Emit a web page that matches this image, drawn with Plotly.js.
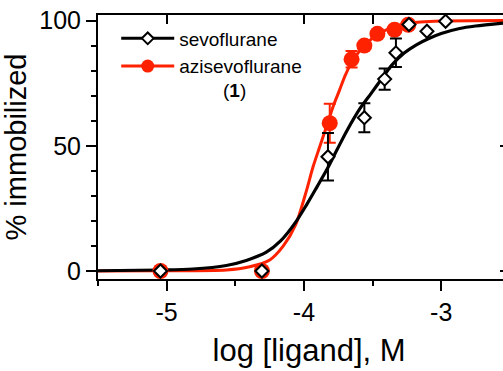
<!DOCTYPE html>
<html><head><meta charset="utf-8">
<script src="https://cdn.plot.ly/plotly-3.0.1.min.js"></script>
<style>html,body{margin:0;padding:0;background:#fff}#chart{width:503px;height:371px}</style>
</head><body><div id="chart"></div>
<script>
// ---- data ----
const sevoX = [-5.045, -4.306, -3.825, -3.56, -3.412, -3.33, -3.235, -3.104, -2.968];
const sevoY = [0, 0, 45.6, 61.2, 76.6, 87.1, 98.4, 95.7, 99.7];
const sevoErr = [null, null, 9.5, 5.8, 4.2, 5.7, null, null, null];

const aziX = [-5.045, -4.306, -3.812, -3.653, -3.56, -3.465, -3.34, -3.24];
const aziY = [0, 0, 59, 84.5, 90, 94.7, 96.3, 98.3];
const aziErr = [null, null, 7.8, 3.3, null, null, null, null];

const sevoFitX = [-5.5, -5.05, -4.81, -4.565, -4.42, -4.274, -4.17, -4.06, -3.98, -3.906, -3.833, -3.76, -3.687, -3.59, -3.509, -3.43, -3.363, -3.27, -3.181, -3.09, -3.0, -2.866, -2.75, -2.55];
const sevoFitY = [0.1, 0.4, 0.8, 2.2, 4.2, 7.5, 12, 19.5, 26.5, 33.5, 40.5, 48.3, 56, 65, 71, 77, 82, 87, 90.3, 92.8, 94.8, 96.8, 97.8, 99];

const aziFitX = [-5.5, -5.05, -4.565, -4.395, -4.249, -4.15, -4.06, -3.982, -3.934, -3.885, -3.836, -3.788, -3.74, -3.7, -3.65, -3.6, -3.55, -3.47, -3.38, -3.28, -3.15, -3.0, -2.55];
const aziFitY = [0, 0.1, 0.4, 1.7, 4.4, 10, 18.5, 32, 41.5, 49.6, 57.6, 65.6, 72.3, 78, 83.5, 87.5, 90.5, 94.2, 96.8, 98.5, 99.4, 99.8, 100];

const seriesNames = ['sevoflurane', 'azisevoflurane'];
const xTickVals = [-5, -4, -3];
const xTickText = ['-5', '-4', '-3'];
const yTickVals = [0, 50, 100];
const yTickText = ['0', '50', '100'];

const RED = '#ff2200';
const FONT = 'Arial, "Liberation Sans", Helvetica, sans-serif';

const traces = [
  {x: aziFitX, y: aziFitY, mode: 'lines', line: {color: RED, width: 3, shape: 'spline', smoothing: 0.8}, showlegend: false, hoverinfo: 'skip'},
  {x: sevoFitX, y: sevoFitY, mode: 'lines', line: {color: '#000', width: 3.2, shape: 'spline', smoothing: 0.8}, showlegend: false, hoverinfo: 'skip'},
  {x: aziX, y: aziY, mode: 'markers', showlegend: false,
   marker: {symbol: 'circle', size: 16, color: RED, line: {width: 0}},
   error_y: {type: 'data', array: aziErr, visible: true, color: RED, thickness: 2, width: 6}},
  {x: sevoX, y: sevoY, mode: 'markers', showlegend: false,
   marker: {symbol: 'diamond', size: 10, color: '#fff', line: {color: '#000', width: 2}},
   error_y: {type: 'data', array: sevoErr, visible: true, color: '#000', thickness: 2, width: 6}},
  // legend entries
  {x: [null], y: [null], name: seriesNames[0], mode: 'lines+markers',
   line: {color: '#000', width: 3}, marker: {symbol: 'diamond', size: 9, color: '#fff', line: {color: '#000', width: 2}}},
  {x: [null], y: [null], name: seriesNames[1], mode: 'lines+markers',
   line: {color: RED, width: 3}, marker: {symbol: 'circle', size: 13, color: RED}}
];

const layout = {
  width: 503, height: 371,
  margin: {l: 98, r: 0, t: 15, b: 92, pad: 0},
  paper_bgcolor: '#fff', plot_bgcolor: '#fff',
  font: {family: FONT, color: '#000'},
  showlegend: true,
  legend: {x: 0.045, y: 0.983, xanchor: 'left', yanchor: 'top', bgcolor: 'rgba(0,0,0,0)',
           font: {size: 19, family: FONT, color: '#000'}, itemwidth: 53, tracegroupgap: 0},
  xaxis: {
    range: [-5.5, -2.55], showgrid: false, zeroline: false,
    showline: true, linecolor: '#000', linewidth: 2,
    tickmode: 'array', tickvals: xTickVals, ticktext: xTickText,
    ticks: 'outside', ticklen: 10, tickwidth: 2, tickcolor: '#000',
    minor: {tickmode: 'array', tickvals: [-5.5, -4.5, -3.5], ticks: 'outside', ticklen: 5, tickwidth: 2, tickcolor: '#000', showgrid: false},
    tickfont: {size: 25, family: FONT, color: '#000'},
    title: {text: '&nbsp;&nbsp;log [ligand], M', font: {size: 31, family: FONT, color: '#000'}, standoff: 14},
    automargin: false
  },
  xaxis2: {
    overlaying: 'x', side: 'top', anchor: 'y', range: [-5.5, -2.55], matches: 'x',
    showgrid: false, zeroline: false, showline: true, linecolor: '#000', linewidth: 2,
    tickmode: 'array', tickvals: [-5, -4, -3.5], ticks: 'inside', ticklen: 9, tickwidth: 2, tickcolor: '#000',
    showticklabels: false
  },
  yaxis: {
    range: [-3.2, 102.2], showgrid: false, zeroline: false,
    showline: true, linecolor: '#000', linewidth: 2,
    tickmode: 'array', tickvals: yTickVals, ticktext: yTickText,
    ticks: 'outside', ticklen: 10, tickwidth: 2, tickcolor: '#000',
    minor: {dtick: 10, tick0: 0, ticks: 'outside', ticklen: 5, tickwidth: 2, tickcolor: '#000', showgrid: false},
    tickfont: {size: 25, family: FONT, color: '#000'},
    title: {text: '% immobilized', font: {size: 29, family: FONT, color: '#000'}, standoff: 8},
    automargin: false
  },
  yaxis2: {
    overlaying: 'y', side: 'right', anchor: 'x', range: [-3.2, 102.2], matches: 'y',
    showgrid: false, zeroline: false, showline: false,
    tickmode: 'array', tickvals: [0, 50], ticks: 'inside', ticklen: 3, tickwidth: 2, tickcolor: '#000',
    showticklabels: false
  },
  annotations: [{
    xref: 'paper', yref: 'paper', x: 0.338, y: 0.713, xanchor: 'center', yanchor: 'middle',
    text: '(<b>1</b>)', showarrow: false, font: {size: 19, family: FONT, color: '#000'}
  }]
};

// dummy trace to activate the decorative top/right axes
traces.push({x: [null], y: [null], xaxis: 'x2', yaxis: 'y2', showlegend: false, hoverinfo: 'skip'});

Plotly.newPlot('chart', traces, layout, {staticPlot: true, displayModeBar: false});
</script></body></html>
